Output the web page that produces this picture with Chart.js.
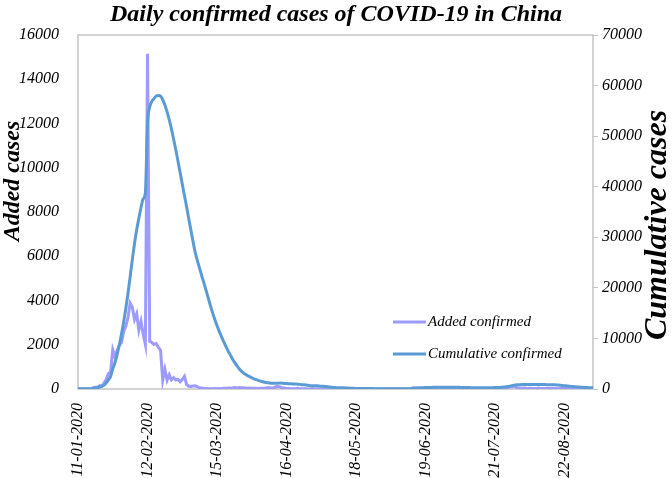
<!DOCTYPE html>
<html>
<head>
<meta charset="utf-8">
<script src="https://cdn.jsdelivr.net/npm/chart.js@4.4.1/dist/chart.umd.min.js"></script>
<style>
  body { margin: 0; background: #fff; }
  #wrap { width: 672px; height: 478px; }
</style>
</head>
<body>
<div id="wrap"><canvas id="covidChart" width="672" height="478"></canvas></div>
<script>
// series names and shown date ticks (every 32 days)
const seriesNames = ["Added confirmed", "Cumulative confirmed"];
const tickLabels = ["11-01-2020", "12-02-2020", "15-03-2020", "16-04-2020",
                    "18-05-2020", "19-06-2020", "21-07-2020", "22-08-2020"];

// daily new confirmed cases, 11 Jan - 4 Sep 2020 (left axis)
const addedConfirmed = [
  // Jan 11-31
  0, 0, 0, 0, 0, 4, 17, 59, 77, 77, 149, 131, 259, 444, 688, 769, 1771, 1459, 1737, 1982, 2102,
  // Feb
  2590, 2829, 3235, 3887, 3694, 3143, 3399, 2656, 3062, 2478, 2015, 15152, 2150, 2100, 2009, 2048,
  1886, 1749, 394, 889, 397, 648, 409, 508, 406, 433, 327, 427, 573,
  // Mar
  202, 125, 119, 139, 143, 99, 44, 40, 19, 24, 15, 8, 11, 20, 16, 21, 13, 34, 39, 41, 46, 39,
  78, 47, 67, 55, 54, 45, 31, 48, 36,
  // Apr
  35, 31, 19, 30, 39, 32, 62, 62, 42, 46, 99, 108, 89, 46, 46, 26, 27, 16, 12, 11, 30, 10, 6,
  12, 11, 3, 6, 22, 4, 12,
  // May
  12, 1, 2, 3, 1, 2, 4, 1, 1, 17, 1, 1, 3, 4, 8, 5, 7, 6, 1, 4, 2, 2, 3, 3, 11, 7, 1, 4, 0, 4, 2,
  // Jun
  5, 2, 2, 4, 3, 7, 5, 3, 3, 0, 1, 11, 57, 49, 40, 36, 28, 25, 32, 26, 27, 18, 22, 12, 19, 17,
  21, 12, 12, 19,
  // Jul
  3, 3, 5, 8, 3, 6, 8, 7, 7, 4, 7, 8, 7, 11, 12, 15, 20, 17, 22, 12, 14, 15, 22, 34, 46, 61, 68,
  101, 105, 127, 45,
  // Aug
  49, 36, 43, 36, 27, 37, 23, 22, 27, 44, 19, 25, 19, 23, 22, 22, 24, 22, 17, 22, 22, 18, 21,
  16, 15, 9, 9, 9, 12, 6, 10,
  // Sep 1-4
  5, 11, 10, 10
];

// cases under treatment, same days (right axis)
const cumulativeConfirmed = [
  // Jan 11-31
  41, 41, 41, 41, 41, 45, 62, 121, 198, 260, 406, 526, 771, 1208, 1800, 2500, 4000, 5200, 6800, 8700, 10800,
  // Feb
  13200, 15900, 18900, 22200, 25600, 28700, 31500, 33700, 35900, 37600, 38800, 52526, 55748, 56873,
  57416, 57934, 58016, 57900, 57200, 56100, 54800, 53200, 51400, 49400, 47300, 45100, 42800, 40500, 38200,
  // Mar
  36000, 33600, 31300, 29000, 26900, 25300, 23800, 22300, 20900, 19400, 17900, 16400, 15000, 13700,
  12500, 11400, 10400, 9400, 8500, 7600, 6800, 6000, 5300, 4700, 4100, 3600, 3200, 2900, 2650, 2430, 2230,
  // Apr
  2000, 1850, 1700, 1550, 1420, 1320, 1250, 1200, 1150, 1120, 1140, 1160, 1170, 1150, 1110, 1081,
  1058, 1040, 1000, 991, 957, 915, 838, 838, 801, 723, 647, 648, 647, 619,
  // May
  590, 560, 530, 480, 430, 380, 330, 300, 270, 260, 250, 230, 220, 190, 160, 150, 130, 120, 110,
  100, 90, 90, 80, 80, 80, 70, 70, 70, 70, 70, 70,
  // Jun
  70, 70, 70, 60, 60, 60, 60, 60, 60, 60, 60, 70, 120, 160, 190, 230, 250, 270, 290, 300, 310,
  320, 330, 330, 340, 340, 350, 350, 360, 360,
  // Jul
  360, 350, 340, 330, 320, 310, 300, 290, 280, 270, 260, 250, 240, 230, 230, 230, 240, 250, 260,
  270, 290, 300, 320, 350, 390, 440, 500, 590, 680, 790, 820,
  // Aug
  850, 870, 890, 900, 910, 910, 910, 900, 900, 900, 890, 880, 870, 860, 850, 840, 830, 810, 790,
  720, 680, 640, 600, 560, 520, 480, 440, 400, 370, 340, 310,
  // Sep 1-4
  290, 270, 250, 240
];

const serif = "'Liberation Serif', 'Times New Roman', serif";
const purple = "#9d9bff";
const blue = "#5b9bd5";

// one category per day, dd-mm-yyyy
const days = addedConfirmed.map((_, i) => {
  const d = new Date(2020, 0, 11 + i);
  return String(d.getDate()).padStart(2, "0") + "-" +
         String(d.getMonth() + 1).padStart(2, "0") + "-" + d.getFullYear();
});

// plot frame, axis titles (both read bottom-up) and the legend inside the plot
const extrasPlugin = {
  id: "extras",
  beforeDatasetsDraw(chart) {
    const { ctx, chartArea: a } = chart;
    ctx.save();
    ctx.strokeStyle = "#c3c3c3";
    ctx.lineWidth = 1.5;
    ctx.strokeRect(a.left, a.top, a.right - a.left, a.bottom - a.top);
    ctx.restore();
  },
  afterDraw(chart) {
    const { ctx, chartArea: a } = chart;
    ctx.save();
    ctx.fillStyle = "#000";
    ctx.textAlign = "center";
    ctx.textBaseline = "middle";

    ctx.save();
    ctx.font = "italic bold 24px " + serif;
    ctx.translate(13, 181);
    ctx.rotate(-Math.PI / 2);
    ctx.fillText("Added cases", 0, 0);
    ctx.restore();

    ctx.save();
    ctx.font = "italic bold 32px " + serif;
    ctx.translate(658, 225);
    ctx.rotate(-Math.PI / 2);
    ctx.fillText("Cumulative cases", 0, 0);
    ctx.restore();

    // legend
    ctx.font = "italic 15px " + serif;
    ctx.textAlign = "left";
    chart.data.datasets.forEach((ds, i) => {
      const y = a.top + 287 + i * 32;
      const x = a.left + 315;
      ctx.strokeStyle = ds.borderColor;
      ctx.lineWidth = 3;
      ctx.beginPath();
      ctx.moveTo(x, y);
      ctx.lineTo(x + 33, y);
      ctx.stroke();
      ctx.fillText(ds.label, x + 35, y);
    });
    ctx.restore();
  }
};

const tickFont = { family: serif, size: 16, style: "italic" };

new Chart(document.getElementById("covidChart"), {
  type: "line",
  data: {
    labels: days,
    datasets: [
      {
        label: seriesNames[0],
        data: addedConfirmed,
        yAxisID: "y",
        borderColor: purple,
        borderWidth: 3,
        pointRadius: 0,
        tension: 0,
        order: 2
      },
      {
        label: seriesNames[1],
        data: cumulativeConfirmed,
        yAxisID: "y1",
        borderColor: blue,
        borderWidth: 3,
        pointRadius: 0,
        cubicInterpolationMode: "monotone",
        order: 1
      }
    ]
  },
  options: {
    responsive: false,
    animation: false,
    events: [],
    layout: { padding: 0 },
    plugins: {
      legend: { display: false },
      tooltip: { enabled: false },
      title: {
        display: true,
        text: "Daily confirmed cases of COVID-19 in China",
        color: "#000",
        font: { family: serif, size: 24, style: "italic", weight: "bold", lineHeight: 1.2 },
        padding: { top: 0, bottom: 6.2 }
      }
    },
    scales: {
      x: {
        type: "category",
        offset: false,
        grid: { display: false },
        border: { display: false },
        ticks: {
          autoSkip: false,
          minRotation: 90,
          maxRotation: 90,
          padding: 6,
          color: "#000",
          font: tickFont,
          callback: function (value) {
            const lab = this.getLabelForValue(value);
            return tickLabels.includes(lab) ? lab : "";
          }
        },
        afterFit: s => { s.height = 89; }
      },
      y: {
        position: "left",
        min: 0,
        max: 16000,
        grid: { display: false },
        border: { display: false },
        ticks: { stepSize: 2000, padding: 11, color: "#000", font: tickFont, callback: v => String(v) },
        afterFit: s => { s.width = 78; }
      },
      y1: {
        position: "right",
        min: 0,
        max: 70000,
        grid: { display: true, drawOnChartArea: false, drawTicks: true, tickLength: 5, color: "#c3c3c3" },
        border: { display: false },
        ticks: { stepSize: 10000, padding: 4, color: "#000", font: tickFont, callback: v => String(v) },
        afterFit: s => { s.width = 79; }
      }
    }
  },
  plugins: [extrasPlugin]
});
</script>
</body>
</html>
